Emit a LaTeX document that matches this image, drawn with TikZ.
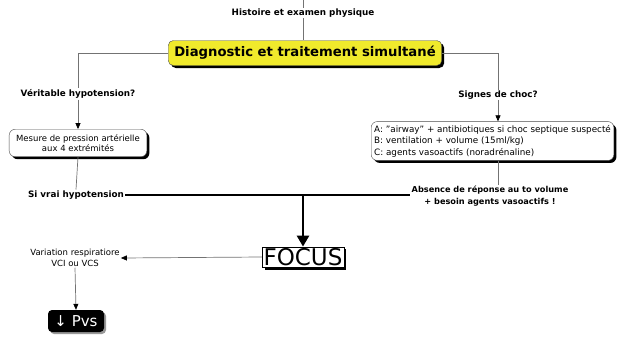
\documentclass[tikz,border=0pt]{standalone}
\usepackage{fontspec}
\setmainfont{DejaVu Sans}
\usepackage{tikz}
\usetikzlibrary{shadows,arrows.meta}
\definecolor{jaune}{RGB}{240,234,44}

\tikzset{
	lien/.style={draw=black!55, line width=0.7pt},
	fleche/.style={lien, -{Triangle[length=6pt,width=5pt,color=black]}},
	epais/.style={draw=black, line width=2.6pt},
	grossefleche/.style={epais, -{Triangle[length=11pt,width=12pt]}},
	ombre/.style={drop shadow={shadow xshift=2.5pt, shadow yshift=-2.5pt, fill=black, opacity=1}},
	etiq/.style={font=\bfseries\fontsize{8.8}{11}\selectfont, inner sep=1pt, align=center},
	texte/.style={font=\fontsize{8.5}{10.5}\selectfont, inner sep=1pt, align=center},
	boite/.style={draw=black!70, fill=white, rounded corners=6pt, ombre, texte, inner xsep=7pt, inner ysep=5pt},
	principal/.style={draw=black!70, fill=jaune, rounded corners=5pt, ombre, font=\bfseries\fontsize{13.2}{15}\selectfont, minimum height=25pt, inner xsep=6pt}
}

\begin{document}
\begin{tikzpicture}[x=1pt, y=-1pt]
	\useasboundingbox (0,0) rectangle (622,341);
	% tronc
	\coordinate (haut) at (303,-2);
	\node (histoire) at (303,13) [etiq] {Histoire et examen physique};
	\node (diag) at (305,53) [principal] {Diagnostic et traitement simultané};
	\draw[lien] (haut) -- (histoire.north)
		  (histoire.south) -- (histoire.south |- diag.north);
	% branche gauche
	\node (verit) at (78,94) [etiq] {Véritable hypotension?};
	\node (mesure) at (78,143) [boite] {Mesure de pression artérielle\\aux 4 extrémités};
	\node (sivrai) at (76,195) [etiq] {Si vrai hypotension};
	\draw[lien] (diag.west) -| (verit.north);
	\draw[fleche] (verit.south) -- (mesure.north);
	\draw[lien] (mesure.south) -- (sivrai.north);
	% branche droite
	\node (signes) at (498,95) [etiq] {Signes de choc?};
	\node (abc) at (371,141) [boite, anchor=west, align=left, inner xsep=3pt, inner ysep=3.5pt, font=\fontsize{8.8}{11.5}\selectfont] {A: "airway" + antibiotiques si choc septique suspecté\\B: ventilation + volume (15ml/kg)\\C: agents vasoactifs (noradrénaline)};
	\node (absence) at (490,196) [etiq, font=\bfseries\fontsize{8.2}{11.5}\selectfont] {Absence de réponse au to volume\\+ besoin agents vasoactifs !};
	\draw[lien] (diag.east) -| (signes.north);
	\draw[fleche] (signes.south) -- (signes.south |- abc.north);
	\draw[lien] (abc.south -| signes.south) -- (signes.south |- absence.north);
	% focus
	\node (focus) at (303,257) [draw, fill=white, ombre, inner sep=1.5pt, font=\fontsize{23}{25}\selectfont] {FOCUS};
	\draw[epais] (sivrai.east) -- (absence.west |- sivrai.east);
	\draw[grossefleche] (focus.north |- sivrai.east) -- (focus.north);
	\node (variation) at (75,258) [texte] {Variation respiratiore\\VCI ou VCS};
	\node (pvs) at (76,321) [fill=black, text=white, rounded corners=4pt, minimum width=56pt, minimum height=22pt, drop shadow={shadow xshift=2pt, shadow yshift=-2pt, fill=black!40, opacity=1}, font=\fontsize{15}{17}\selectfont] {↓ Pvs};
	\draw[fleche] (focus.west) -- (variation.east);
	\draw[fleche] (variation.south) -- (pvs.north);
\end{tikzpicture}
\end{document}
